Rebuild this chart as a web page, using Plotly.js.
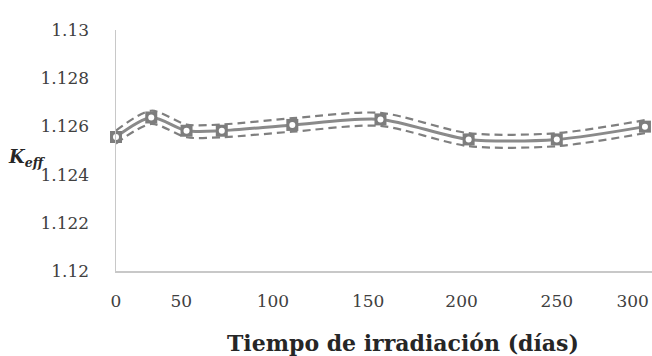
<!DOCTYPE html>
<html>
<head>
<meta charset="utf-8">
<script src="https://cdn.plot.ly/plotly-3.0.1.min.js"></script>
<style>html,body{margin:0;padding:0;background:#fff}#chart{width:652px;height:356px}</style>
</head>
<body>
<div id="chart"></div>
<script>
// Data
var days  = [0, 20, 40, 60, 100, 150, 200, 250, 300];
var keff  = [1.12556, 1.12637, 1.12582, 1.12582, 1.12606, 1.12629, 1.12546, 1.12546, 1.12599];
var upper = [1.12583, 1.12665, 1.12608, 1.12608, 1.12634, 1.12656, 1.12572, 1.12572, 1.12626];
var lower = [1.12529, 1.12610, 1.12555, 1.12555, 1.12578, 1.12602, 1.12518, 1.12518, 1.12572];
var xTickText = ["0", "50", "100", "150", "200", "250", "300"];
var yTicks = [1.12, 1.122, 1.124, 1.126, 1.128, 1.13];
var yTickText = ["1.12", "1.122", "1.124", "1.126", "1.128", "1.13"];
// where the reference prints its x tick labels (in axis units)
var xTickPos = [0, 37, 89, 143, 196, 250, 293];
var xTitle = "Tiempo de irradiación (días)";

var serif = "DejaVu Serif, serif";
var dashStyle = {color: "#7f7f7f", width: 2.2, dash: "8px,5px", shape: "spline", smoothing: 0.8};

var traces = [
  {x: days, y: upper, mode: "lines", line: dashStyle, hoverinfo: "skip", cliponaxis: false},
  {x: days, y: lower, mode: "lines", line: dashStyle, hoverinfo: "skip", cliponaxis: false},
  {x: days, y: keff, mode: "lines+markers", line: {color: "#8a8a8a", width: 3, shape: "spline", smoothing: 0.8},
   marker: {symbol: "square", size: 12, color: "#7d7d7d", line: {width: 0}}, cliponaxis: false},
  {x: days, y: keff, mode: "markers", marker: {symbol: "circle", size: 6, color: "#ffffff", line: {width: 0}}, cliponaxis: false, hoverinfo: "skip"}
];

var layout = {
  width: 652, height: 356,
  margin: {l: 116, r: 0, t: 30, b: 85},
  paper_bgcolor: "#ffffff", plot_bgcolor: "#ffffff",
  showlegend: false,
  font: {family: serif, color: "#404040", size: 17},
  xaxis: {
    range: [0, 304], showgrid: false, zeroline: false,
    showline: true, linecolor: "#c8c8c8", linewidth: 1.5,
    tickmode: "array", tickvals: xTickPos, ticktext: xTickText,
    ticks: "", ticklabelstandoff: 14,
    tickfont: {family: serif, size: 17, color: "#404040"}
  },
  yaxis: {
    range: [1.12, 1.13], showgrid: false, zeroline: false,
    showline: true, linecolor: "#c8c8c8", linewidth: 1.5,
    tickmode: "array", tickvals: yTicks, ticktext: yTickText,
    ticks: "", ticklabelstandoff: 22,
    tickfont: {family: serif, size: 17, color: "#404040"}
  },
  annotations: [{
    xref: "paper", yref: "paper", x: -0.205, y: 0.47, xanchor: "left", yanchor: "middle",
    showarrow: false,
    text: "<b><i>K</i></b><sub><b><i>eff</i></b></sub>",
    font: {family: serif, size: 18, color: "#262626"}
  }, {
    xref: "paper", yref: "paper", x: 0.535, y: -0.299, xanchor: "center", yanchor: "middle",
    showarrow: false,
    text: "<b>" + xTitle + "</b>",
    font: {family: serif, size: 22, color: "#262626"}
  }]
};

Plotly.newPlot("chart", traces, layout, {displayModeBar: false, staticPlot: true});
</script>
</body>
</html>
